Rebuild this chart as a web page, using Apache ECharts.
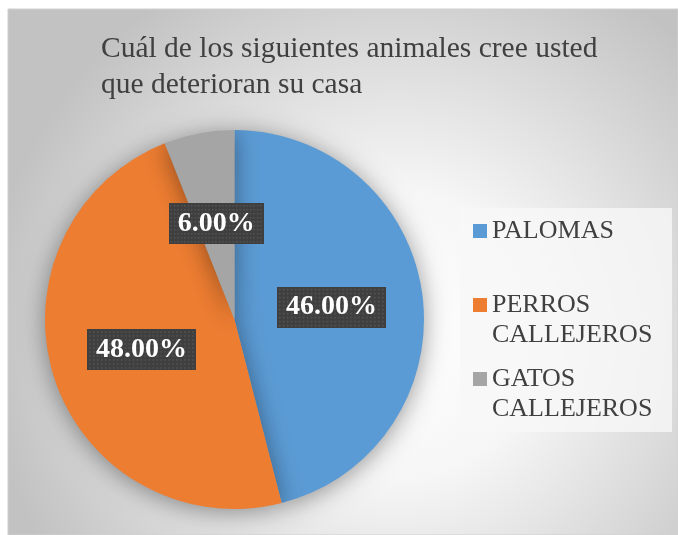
<!DOCTYPE html>
<html>
<head>
<meta charset="utf-8">
<script src="https://cdn.jsdelivr.net/npm/echarts@6/dist/echarts.min.js"></script>
<style>
html,body{margin:0;padding:0;background:#fff;}
#chart{width:678px;height:535px;}
</style>
</head>
<body>
<div id="chart"></div>
<script>
const titleText = 'Cuál de los siguientes animales cree usted\nque deterioran su casa';
const categories = ['PALOMAS', 'PERROS CALLEJEROS', 'GATOS CALLEJEROS'];
const values = [46, 48, 6];

const serif = "Liberation Serif";

function dotPattern(w, h) {
  const c = document.createElement('canvas');
  c.width = w; c.height = h;
  const g = c.getContext('2d');
  g.fillStyle = '#3f3f3f';
  g.fillRect(0, 0, w, h);
  g.fillStyle = '#585858';
  for (let y = 2; y < h; y += 4) {
    for (let x = 2; x < w; x += 4) g.fillRect(x, y, 1.5, 1.5);
  }
  return c;
}
const pattern = dotPattern(110, 41);

const chart = echarts.init(document.getElementById('chart'), null, {renderer: 'canvas'});

const legendTops = [216, 260, 334];

const option = {
  animation: false,
  textStyle: {fontFamily: serif},
  color: ['#5B9BD5', '#ED7D31', '#A5A5A5'],
  graphic: [
    {
      type: 'rect', z: -10,
      shape: {x: 8, y: 9, width: 670, height: 526},
      style: {
        fill: new echarts.graphic.RadialGradient(0.58, 0.62, 0.78, [
          {offset: 0, color: '#ffffff'},
          {offset: 0.35, color: '#f6f6f6'},
          {offset: 1, color: '#c2c2c2'}
        ]),
        stroke: '#d0d0d0', lineWidth: 1
      }
    },
    {
      type: 'rect', z: -9,
      shape: {x: 460, y: 208, width: 212, height: 224},
      style: {fill: 'rgba(248,248,248,0.8)'}
    }
  ],
  title: {
    text: titleText,
    left: 101,
    top: 31,
    padding: 0,
    textStyle: {
      fontFamily: serif,
      fontSize: 29.5,
      fontWeight: 'normal',
      color: '#404040',
      lineHeight: 36
    }
  },
  legend: categories.map((name, i) => ({
    data: [name],
    orient: 'vertical',
    left: 473,
    top: legendTops[i],
    padding: 0,
    icon: 'rect',
    itemWidth: 14,
    itemHeight: 14,
    selectedMode: false,
    formatter: n => (n.indexOf(' ') >= 0 ? ' \n' + n.replace(' ', '\n') : n),
    textStyle: {
      fontFamily: serif,
      fontSize: 26,
      fontWeight: 'normal',
      color: '#404040',
      lineHeight: 30
    }
  })),
  series: [{
    type: 'pie',
    center: [234.5, 319.5],
    radius: 189.5,
    startAngle: 90,
    clockwise: true,
    label: {
      show: true,
      position: 'inside',
      formatter: p => p.value.toFixed(2) + '%',
      fontFamily: serif,
      fontSize: 28,
      fontWeight: 'bold',
      color: '#ffffff',
      lineHeight: 32,
      padding: [5, 9, 4, 9],
      backgroundColor: {image: pattern},
      shadowColor: 'rgba(0,0,0,0.55)',
      shadowBlur: 4,
      shadowOffsetX: 3,
      shadowOffsetY: 3
    },
    labelLine: {show: false},
    itemStyle: {
      shadowBlur: 24,
      shadowColor: 'rgba(0,0,0,0.4)',
      shadowOffsetY: 3
    },
    emphasis: {disabled: true},
    data: categories.map((name, i) => ({name: name, value: values[i]}))
  }]
};
chart.setOption(option);
</script>
</body>
</html>
